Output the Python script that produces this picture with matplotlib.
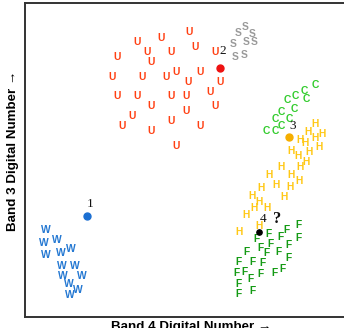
import matplotlib
matplotlib.use("Agg")
import matplotlib.pyplot as plt

# Training samples per land-cover class (Band 4 DN, Band 3 DN)
urban_x = [112, 136, 164, 122, 146, 126, 92, 170, 190, 87, 117, 141, 151, 163, 175,
           195, 185, 92, 112, 146, 161, 126, 190, 107, 161, 97, 146, 175, 126, 151]
urban_y = [275, 279, 285, 265, 265, 255, 260, 270, 265, 240, 240, 240, 245, 235, 245,
           235, 225, 221, 221, 221, 221, 211, 211, 201, 206, 191, 196, 191, 186, 171]

soil_x = [213, 220, 227, 208, 221, 229, 210, 219]
soil_y = [284, 290, 283, 273, 275, 275, 260, 262]

corn_x = [290, 279, 270, 262, 281, 269, 256, 250, 264, 256, 241, 250]
corn_y = [232, 226, 221, 217, 218, 208, 205, 198, 198, 191, 186, 186]

hay_x = [290, 283, 297, 290, 275, 280, 294, 266, 284, 273, 281, 256, 275, 244,
         266, 274, 251, 265, 236, 227, 259, 234, 229, 242, 221, 234, 214]
hay_y = [193, 185, 183, 179, 177, 174, 170, 166, 165, 161, 155, 150, 150, 142,
         142, 136, 132, 130, 129, 121, 120, 115, 109, 109, 102, 91, 85]

forest_x = [274, 261, 243, 232, 256, 273, 246, 263, 235, 221, 242, 254, 263, 214,
            227, 237, 212, 219, 226, 235, 249, 257, 214, 228, 213]
forest_y = [92, 87, 83, 78, 80, 79, 73, 72, 69, 65, 64, 65, 59, 55, 55, 54, 44,
            45, 38, 43, 44, 48, 33, 26, 23]

water_x = [21, 19, 32, 21, 36, 46, 37, 50, 38, 57, 44, 53, 45]
water_y = [87, 74, 77, 62, 64, 68, 51, 51, 41, 41, 33, 27, 22]

# Unknown pixels to be classified
pix_labels = ["1", "2", "3", "4"]
pix_x = [62, 195, 264, 234]
pix_y = [101, 249, 180, 85]
pix_colors = ["#1b6fd2", "#ee1111", "#f5ae00", "#000000"]
pix_sizes = [5, 5, 5, 3.8]
# label offsets from each pixel marker
lab_dx = [3, 3, 4, 4]
lab_dy = [12, 17, 11, 13]

classes = [
    ("U", urban_x, urban_y, "#ff4013"),
    ("S", soil_x, soil_y, "#9a9a9a"),
    ("C", corn_x, corn_y, "#33cc2e"),
    ("H", hay_x, hay_y, "#ffc815"),
    ("F", forest_x, forest_y, "#149a14"),
    ("W", water_x, water_y, "#2478d2"),
]

fig = plt.figure(figsize=(3.44, 3.28), dpi=100)
ax = fig.add_axes([25 / 344, 11 / 328, 321 / 344, 314 / 328])
ax.set_xlim(0, 321)
ax.set_ylim(0, 314)

for letter, xs, ys, col in classes:
    for x, y in zip(xs, ys):
        ax.text(x, y, letter, color=col, fontsize=7.4, fontweight="bold",
                family="Liberation Sans", ha="center", va="center")

for lab, x, y, col, ms, dx, dy in zip(pix_labels, pix_x, pix_y, pix_colors,
                                      pix_sizes, lab_dx, lab_dy):
    ax.plot(x, y, "o", color=col, markersize=ms, zorder=3)
    ax.text(x + dx, y + dy, lab, fontsize=9.5, family="Liberation Serif",
            ha="center", va="center", color="#111111")

ax.text(252, 98, "?", fontsize=12, fontweight="bold", family="Liberation Serif",
        ha="center", va="center", color="#111111")

ax.set_xticks([])
ax.set_yticks([])
for side in ("left", "bottom", "top"):
    ax.spines[side].set_linewidth(1.4)
    ax.spines[side].set_color("#333333")
ax.spines["right"].set_visible(False)

fig.text(191 / 344, 1 - 327 / 328, "Band 4 Digital Number \u2192", fontsize=9.6,
         fontweight="bold", family="Liberation Sans", ha="center", va="center")
fig.text(13 / 344, 1 - 151 / 328, "Band 3 Digital Number \u2192", fontsize=9.6,
         fontweight="bold", family="Liberation Sans", ha="center", va="center",
         rotation=90)

fig.savefig("out.png", dpi=100)
